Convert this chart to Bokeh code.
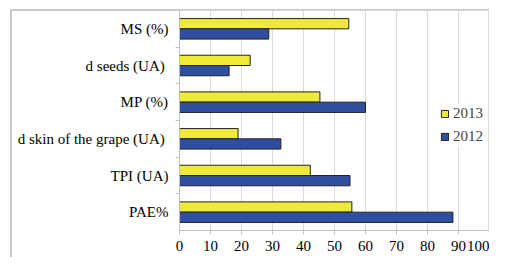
from bokeh.plotting import figure
from bokeh.models import (FactorRange, Range1d, CategoricalAxis, FixedTicker, CustomLabelingPolicy,
                          ColumnDataSource, Legend, LegendItem)
from bokeh.transform import dodge
from bokeh.embed import file_html
from bokeh.resources import INLINE

categories = ["PAE%", "TPI (UA)", "d  skin of the grape (UA)", "MP (%)", "d  seeds (UA)", "MS (%)"]
v2012 = [88.2, 55.0, 32.7, 60.0, 16.0, 28.8]
v2013 = [55.6, 42.2, 18.9, 45.3, 22.8, 54.6]
x_ticks = [0, 10, 20, 30, 40, 50, 60, 70, 80, 90, 100]
series_names = ["2013", "2012"]
boundaries = ["b0", "b1", "b2", "b3", "b4", "b5", "b6"]

FONT = "Liberation Serif"
FS = "15px"
GRID = "#d9d9d9"
AXIS = "#bfbfbf"
YELLOW = "#EFEA3A"
BLUE = "#2F4E9F"
BORDER = "#c8c8c8"

src = ColumnDataSource(data=dict(cat=categories, v2012=v2012, v2013=v2013))

p = figure(width=489, height=257, x_range=Range1d(0, 100),
           y_range=FactorRange(factors=categories, range_padding=0),
           y_axis_location=None, output_backend="svg", toolbar_location=None,
           min_border_left=179, min_border_top=10, min_border_right=0, min_border_bottom=27)

p.outline_line_color = GRID
p.background_fill_color = "white"
p.border_fill_color = None
p.styles = {
    "background": (f"linear-gradient({BORDER}, {BORDER}) 10px 9px / 2px 100% no-repeat, "
                   f"linear-gradient({BORDER}, {BORDER}) 10px 9px / 100% 2px no-repeat, #ffffff"),
}

r13 = p.hbar(y=dodge("cat", 0.14, range=p.y_range), left=0, right="v2013", height=0.28,
             source=src, fill_color=YELLOW, line_color="#222222", line_width=1)
r12 = p.hbar(y=dodge("cat", -0.14, range=p.y_range), left=0, right="v2012", height=0.28,
             source=src, fill_color=BLUE, line_color="#222222", line_width=1)

# x axis
xa = p.xaxis[0]
xa.ticker = FixedTicker(ticks=x_ticks)
xa.axis_line_color = AXIS
xa.major_tick_line_color = AXIS
xa.major_tick_out = 4
xa.major_tick_in = 0
xa.minor_tick_line_color = None
xa.major_label_text_font = FONT
xa.major_label_text_font_size = FS
xa.major_label_text_color = "black"
xa.major_label_standoff = 6

p.xgrid.grid_line_color = GRID
p.ygrid.visible = False

# y axis: boundary tick marks (factor centres placed on category boundaries), no labels
p.extra_y_ranges = {"ticks": FactorRange(factors=boundaries, range_padding=-0.5,
                                         range_padding_units="absolute")}
hide_all = CustomLabelingPolicy(code="""
try { for (const i of Array.from(indices)) { indices.unset(i) } } catch (e) {}
return indices
""")
ta = CategoricalAxis(y_range_name="ticks", major_label_text_font_size="0px",
                     major_label_policy=hide_all, major_label_standoff=0,
                     major_tick_out=4, major_tick_in=0,
                     axis_line_color=AXIS, major_tick_line_color=AXIS)
p.add_layout(ta, "left")

ca = CategoricalAxis(axis_line_color=None, major_tick_line_color=None,
                     major_label_text_font=FONT, major_label_text_font_size=FS,
                     major_label_text_color="black", major_label_standoff=1)
p.add_layout(ca, "left")

legend = Legend(items=[LegendItem(label=series_names[0], renderers=[r13]),
                       LegendItem(label=series_names[1], renderers=[r12])],
                location=(261, 84), glyph_width=9, glyph_height=9, label_standoff=4,
                label_text_font=FONT, label_text_font_size=FS, label_height=20,
                spacing=3, padding=3, margin=0, border_line_color=None,
                background_fill_color="white", background_fill_alpha=1)
p.add_layout(legend)

open("out.html", "w").write(file_html(p, INLINE))
